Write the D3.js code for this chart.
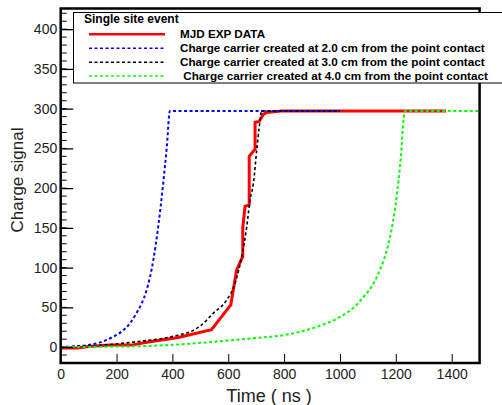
<!DOCTYPE html>
<html>
<head>
<meta charset="utf-8">
<script src="https://cdn.jsdelivr.net/npm/d3@7"></script>
<style>
body { margin: 0; background: #fff; }
svg { display: block; font-family: "Liberation Sans", Arial, sans-serif; }
</style>
</head>
<body>
<div id="chart"></div>
<script>
// measured signal (red)
var expTime = [0, 57, 110, 176, 253, 308, 421, 540, 609, 630, 652, 652, 660, 675, 675, 696, 696, 711, 726, 737, 790, 1380];
var expVal  = [-1, -1, 1, 2.5, 2.5, 6, 12, 22, 53, 97, 114, 150, 177, 179, 240, 249, 283, 284, 293, 295, 297, 297];

// simulated pulses
var t20 = [0, 50, 105, 150, 188, 220, 248, 270, 290, 308, 332, 349, 367, 380, 391, 1000];
var v20 = [0, 1, 3, 7, 13, 20, 30, 42, 55, 72, 110, 151, 206, 252, 297, 297];

var t30 = [0, 100, 200, 300, 367, 420, 475, 505, 546, 594, 624, 648, 666, 678, 690, 702, 711, 720, 1000];
var v30 = [0, 1.5, 4, 8, 11, 15, 21, 28, 42.5, 59, 80, 114, 151, 185, 206, 248, 277, 297, 297];

var t40 = [0, 160, 319, 450, 558, 680, 797, 917, 1000, 1050, 1084, 1120, 1143, 1170, 1191, 1205, 1215, 1233, 1500];
var v40 = [0, 0.5, 1.5, 4, 7, 11, 15, 25.5, 38, 50, 63, 80, 97, 125, 160, 195, 227, 297, 297];

var xTicks = [0, 200, 400, 600, 800, 1000, 1200, 1400];
var yTicks = [0, 50, 100, 150, 200, 250, 300, 350, 400];

var legendTitle = "Single site event";
var legendLabels = ["MJD EXP DATA",
    "Charge carrier created at 2.0 cm from the point contact",
    "Charge carrier created at 3.0 cm from the point contact",
    " Charge carrier created at 4.0 cm from the point contact"];

var width = 502, height = 405;

var svg = d3.select("#chart").append("svg")
    .attr("width", width)
    .attr("height", height);

var x = d3.scaleLinear().domain([0, 1500]).range([60.7, 479.6]);
var y = d3.scaleLinear().domain([-20, 426]).range([363, 8.5]);

var zip = function(ts, vs) {
    return ts.map(function(t, i) { return [t, vs[i]]; });
};

var series = [
    {data: zip(expTime, expVal), color: "#ff0000", dash: null, w: 3, curve: d3.curveLinear},
    {data: zip(t20, v20), color: "#0000ff", dash: "3,2.5", w: 2, curve: d3.curveMonotoneX},
    {data: zip(t30, v30), color: "#000000", dash: "3,2.5", w: 1.6, curve: d3.curveMonotoneX},
    {data: zip(t40, v40), color: "#00ff00", dash: "3,2.5", w: 2, curve: d3.curveMonotoneX}
];

// curves
series.forEach(function(s) {
    var line = d3.line()
        .x(function(d) { return x(d[0]); })
        .y(function(d) { return y(d[1]); })
        .curve(s.curve);
    svg.append("path")
        .datum(s.data)
        .attr("d", line)
        .attr("fill", "none")
        .attr("stroke", s.color)
        .attr("stroke-width", s.w)
        .attr("stroke-dasharray", s.dash);
});

// frame
svg.append("rect")
    .attr("x", x(0)).attr("y", y(426))
    .attr("width", x(1500) - x(0))
    .attr("height", y(-20) - y(426))
    .attr("fill", "none")
    .attr("stroke", "#000")
    .attr("stroke-width", 2.5);

// x axis ticks (inside)
var xAxis = d3.axisBottom(x).tickValues(xTicks).tickFormat(d3.format("d"))
    .tickSizeInner(-9).tickSizeOuter(0);
var gx = svg.append("g").attr("transform", "translate(0," + y(-20) + ")").call(xAxis);
gx.select(".domain").remove();
gx.selectAll("line").attr("stroke", "#000").attr("stroke-width", 1);
gx.selectAll("text").attr("font-size", 14).attr("font-family", "Liberation Sans, Arial, sans-serif")
    .attr("fill", "#222").attr("y", 16).attr("dy", 0);

// y axis: minor then major ticks
var gy = svg.append("g").attr("transform", "translate(" + x(0) + ",0)");
gy.selectAll("line.minor")
    .data(d3.range(-10, 421, 10))
    .enter().append("line")
    .attr("x1", 0).attr("x2", 6)
    .attr("y1", function(d) { return y(d); })
    .attr("y2", function(d) { return y(d); })
    .attr("stroke", "#000");
var yAxis = d3.axisLeft(y).tickValues(yTicks).tickSizeInner(-12.5).tickSizeOuter(0).tickPadding(3.5);
gy.call(yAxis);
gy.select(".domain").remove();
gy.selectAll(".tick line").attr("stroke", "#000").attr("stroke-width", 1.3);
gy.selectAll(".tick text").attr("font-size", 14).attr("font-family", "Liberation Sans, Arial, sans-serif")
    .attr("fill", "#222");

// axis titles
svg.append("text")
    .attr("x", 269).attr("y", 402)
    .attr("text-anchor", "middle")
    .attr("font-size", 18).attr("fill", "#222")
    .text("Time ( ns )");
svg.append("text")
    .attr("transform", "translate(23,180)rotate(-90)")
    .attr("text-anchor", "middle")
    .attr("font-size", 17).attr("fill", "#222")
    .text("Charge signal");

// legend
var lg = svg.append("g");
lg.append("rect")
    .attr("x", 73.5).attr("y", 12.5)
    .attr("width", 440).attr("height", 70.5)
    .attr("fill", "#fff").attr("stroke", "#000").attr("stroke-width", 1);
lg.append("text")
    .attr("x", 84).attr("y", 23)
    .attr("font-size", 12).attr("font-weight", "bold")
    .text(legendTitle);
var rowY = [34.3, 48.3, 62.3, 76];
series.forEach(function(s, i) {
    lg.append("line")
        .attr("x1", 89).attr("x2", 165)
        .attr("y1", rowY[i]).attr("y2", rowY[i])
        .attr("stroke", s.color)
        .attr("stroke-width", s.w === 3 ? 2.5 : 1.6)
        .attr("stroke-dasharray", s.dash);
    lg.append("text")
        .attr("x", 180).attr("y", rowY[i] + 4)
        .attr("font-size", 11.7).attr("font-weight", "bold")
        .attr("xml:space", "preserve")
        .style("white-space", "pre")
        .text(legendLabels[i]);
});
</script>
</body>
</html>
